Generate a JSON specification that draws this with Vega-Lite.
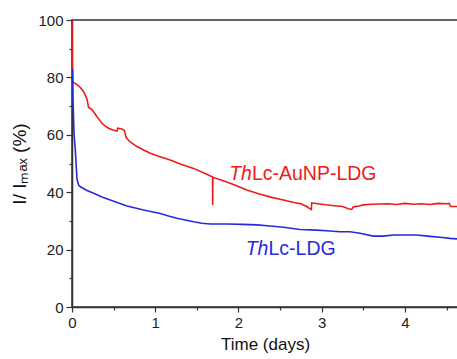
{
  "$schema": "https://vega.github.io/schema/vega-lite/v6.json",
  "width": 386,
  "height": 287,
  "autosize": "none",
  "padding": {"left": 72, "top": 20, "right": 0, "bottom": 52},
  "background": "white",
  "config": {
    "view": {"stroke": "#333", "strokeWidth": 1.5},
    "font": "Liberation Sans"
  },
  "datasets": {
    "curves": [
      {"series": "AuNP", "t": 0, "v": 100},
      {"series": "AuNP", "t": 0.003, "v": 85},
      {"series": "AuNP", "t": 0.008, "v": 78.5},
      {"series": "AuNP", "t": 0.03, "v": 78},
      {"series": "AuNP", "t": 0.06, "v": 77.5},
      {"series": "AuNP", "t": 0.1, "v": 76.5},
      {"series": "AuNP", "t": 0.14, "v": 75},
      {"series": "AuNP", "t": 0.18, "v": 72.5},
      {"series": "AuNP", "t": 0.2, "v": 69.5},
      {"series": "AuNP", "t": 0.23, "v": 69},
      {"series": "AuNP", "t": 0.26, "v": 68},
      {"series": "AuNP", "t": 0.3, "v": 66.3},
      {"series": "AuNP", "t": 0.33, "v": 65.2},
      {"series": "AuNP", "t": 0.36, "v": 64},
      {"series": "AuNP", "t": 0.4, "v": 63},
      {"series": "AuNP", "t": 0.44, "v": 62.3},
      {"series": "AuNP", "t": 0.5, "v": 61.6},
      {"series": "AuNP", "t": 0.54, "v": 61.3},
      {"series": "AuNP", "t": 0.55, "v": 62.3},
      {"series": "AuNP", "t": 0.6, "v": 62},
      {"series": "AuNP", "t": 0.63, "v": 61.5},
      {"series": "AuNP", "t": 0.65, "v": 59},
      {"series": "AuNP", "t": 0.7, "v": 57.5},
      {"series": "AuNP", "t": 0.78, "v": 55.9},
      {"series": "AuNP", "t": 0.86, "v": 54.7},
      {"series": "AuNP", "t": 0.94, "v": 53.6},
      {"series": "AuNP", "t": 1.05, "v": 52.4},
      {"series": "AuNP", "t": 1.18, "v": 51.2},
      {"series": "AuNP", "t": 1.3, "v": 49.8},
      {"series": "AuNP", "t": 1.46, "v": 48.3},
      {"series": "AuNP", "t": 1.6, "v": 46.5},
      {"series": "AuNP", "t": 1.689, "v": 45.3},
      {"series": "AuNP", "t": 1.69, "v": 35.5},
      {"series": "AuNP", "t": 1.692, "v": 45.2},
      {"series": "AuNP", "t": 1.8, "v": 44.2},
      {"series": "AuNP", "t": 1.94, "v": 42.7},
      {"series": "AuNP", "t": 2.1, "v": 40.8},
      {"series": "AuNP", "t": 2.26, "v": 39.3},
      {"series": "AuNP", "t": 2.4, "v": 38.2},
      {"series": "AuNP", "t": 2.54, "v": 37.3},
      {"series": "AuNP", "t": 2.65, "v": 36.5},
      {"series": "AuNP", "t": 2.75, "v": 36},
      {"series": "AuNP", "t": 2.82, "v": 35},
      {"series": "AuNP", "t": 2.86, "v": 34.2},
      {"series": "AuNP", "t": 2.875, "v": 34},
      {"series": "AuNP", "t": 2.88, "v": 36.3},
      {"series": "AuNP", "t": 2.95, "v": 36},
      {"series": "AuNP", "t": 3.05, "v": 35.6},
      {"series": "AuNP", "t": 3.15, "v": 35.3},
      {"series": "AuNP", "t": 3.25, "v": 35},
      {"series": "AuNP", "t": 3.32, "v": 34.2},
      {"series": "AuNP", "t": 3.36, "v": 34},
      {"series": "AuNP", "t": 3.38, "v": 34.9},
      {"series": "AuNP", "t": 3.45, "v": 35.2},
      {"series": "AuNP", "t": 3.5, "v": 35.6},
      {"series": "AuNP", "t": 3.6, "v": 35.8},
      {"series": "AuNP", "t": 3.7, "v": 35.9},
      {"series": "AuNP", "t": 3.8, "v": 36},
      {"series": "AuNP", "t": 3.9, "v": 35.7},
      {"series": "AuNP", "t": 4.0, "v": 36.1},
      {"series": "AuNP", "t": 4.1, "v": 35.8},
      {"series": "AuNP", "t": 4.2, "v": 36},
      {"series": "AuNP", "t": 4.3, "v": 35.7},
      {"series": "AuNP", "t": 4.4, "v": 36.1},
      {"series": "AuNP", "t": 4.5, "v": 36},
      {"series": "AuNP", "t": 4.53, "v": 36.1},
      {"series": "AuNP", "t": 4.55, "v": 35},
      {"series": "AuNP", "t": 4.64, "v": 35},
      {"series": "LDG", "t": 0, "v": 76},
      {"series": "LDG", "t": 0.006, "v": 83},
      {"series": "LDG", "t": 0.012, "v": 72},
      {"series": "LDG", "t": 0.025, "v": 60},
      {"series": "LDG", "t": 0.04, "v": 54.7},
      {"series": "LDG", "t": 0.06, "v": 44.5},
      {"series": "LDG", "t": 0.08, "v": 42.5},
      {"series": "LDG", "t": 0.1, "v": 41.9},
      {"series": "LDG", "t": 0.18, "v": 40.6},
      {"series": "LDG", "t": 0.26, "v": 39.6},
      {"series": "LDG", "t": 0.36, "v": 38.3},
      {"series": "LDG", "t": 0.46, "v": 37.3},
      {"series": "LDG", "t": 0.56, "v": 36.2},
      {"series": "LDG", "t": 0.66, "v": 35.2},
      {"series": "LDG", "t": 0.76, "v": 34.5},
      {"series": "LDG", "t": 0.86, "v": 33.8},
      {"series": "LDG", "t": 0.96, "v": 33.2},
      {"series": "LDG", "t": 1.06, "v": 32.6},
      {"series": "LDG", "t": 1.16, "v": 31.7},
      {"series": "LDG", "t": 1.26, "v": 30.9},
      {"series": "LDG", "t": 1.36, "v": 30.3},
      {"series": "LDG", "t": 1.46, "v": 29.7},
      {"series": "LDG", "t": 1.56, "v": 29.2},
      {"series": "LDG", "t": 1.66, "v": 28.9},
      {"series": "LDG", "t": 1.86, "v": 28.9},
      {"series": "LDG", "t": 2.04, "v": 28.8},
      {"series": "LDG", "t": 2.22, "v": 28.6},
      {"series": "LDG", "t": 2.38, "v": 28.2},
      {"series": "LDG", "t": 2.54, "v": 27.8},
      {"series": "LDG", "t": 2.74, "v": 27},
      {"series": "LDG", "t": 2.94, "v": 26.8},
      {"series": "LDG", "t": 3.1, "v": 26.5},
      {"series": "LDG", "t": 3.22, "v": 26.2},
      {"series": "LDG", "t": 3.34, "v": 26.2},
      {"series": "LDG", "t": 3.46, "v": 25.7},
      {"series": "LDG", "t": 3.62, "v": 24.7},
      {"series": "LDG", "t": 3.74, "v": 24.7},
      {"series": "LDG", "t": 3.86, "v": 25.1},
      {"series": "LDG", "t": 4.0, "v": 25.1},
      {"series": "LDG", "t": 4.14, "v": 25.1},
      {"series": "LDG", "t": 4.3, "v": 24.6},
      {"series": "LDG", "t": 4.45, "v": 24.2},
      {"series": "LDG", "t": 4.54, "v": 23.9},
      {"series": "LDG", "t": 4.64, "v": 23.7}
    ],
    "labels": [
      {"series": "AuNP", "part": "italic", "text": "Th", "t": 1.888, "v": 44.4},
      {"series": "AuNP", "part": "normal", "text": "Lc-AuNP-LDG", "t": 2.161, "v": 44.4},
      {"series": "LDG", "part": "italic", "text": "Th", "t": 2.086, "v": 18.1},
      {"series": "LDG", "part": "normal", "text": "Lc-LDG", "t": 2.36, "v": 18.1}
    ]
  },
  "encoding": {
    "x": {
      "field": "t", "type": "quantitative",
      "scale": {"domain": [0, 4.637], "nice": false, "zero": false},
      "axis": {
        "title": "Time (days)",
        "values": [0, 0.5, 1, 1.5, 2, 2.5, 3, 3.5, 4, 4.5],
        "labelExpr": "datum.value % 1 === 0 ? format(datum.value, 'd') : ''",
        "grid": false,
        "domainColor": "#333", "domainWidth": 1.5,
        "tickColor": "#333", "tickWidth": 1.2,
        "tickSize": {"condition": {"test": "datum.value % 1 !== 0", "value": 3}, "value": 5},
        "labelFontSize": 15, "labelColor": "#222", "labelPadding": 3,
        "labelFlush": false, "labelOverlap": false,
        "titleFontSize": 17, "titleFontWeight": "normal", "titleColor": "#111", "titlePadding": 6
      }
    },
    "y": {
      "field": "v", "type": "quantitative",
      "scale": {"domain": [0, 100], "nice": false},
      "axis": {
        "title": "I/ Iₘₐₓ (%)",
        "values": [0, 10, 20, 30, 40, 50, 60, 70, 80, 90, 100],
        "labelExpr": "datum.value % 20 === 0 ? datum.label : ''",
        "grid": false,
        "domainColor": "#333", "domainWidth": 1.5,
        "tickColor": "#333", "tickWidth": 1.2,
        "tickSize": {"condition": {"test": "datum.value % 20 !== 0", "value": 3}, "value": 6},
        "labelFontSize": 15, "labelColor": "#222", "labelPadding": 3,
        "labelFlush": false, "labelOverlap": false,
        "titleFontSize": 19, "titleFontWeight": "normal", "titleColor": "#111", "titlePadding": 8
      }
    },
    "color": {
      "field": "series", "type": "nominal",
      "scale": {"domain": ["AuNP", "LDG"], "range": ["#ee1a1a", "#2a2ad8"]},
      "legend": null
    }
  },
  "layer": [
    {
      "data": {"name": "curves"},
      "mark": {"type": "line", "strokeWidth": 1.6, "clip": true, "interpolate": "linear"},
      "encoding": {"order": {"field": "t", "type": "quantitative"}}
    },
    {
      "data": {"name": "labels"},
      "transform": [{"filter": "datum.part === 'italic'"}],
      "mark": {"type": "text", "align": "left", "baseline": "alphabetic", "fontSize": 19.5, "fontStyle": "italic", "font": "Liberation Sans"},
      "encoding": {"text": {"field": "text"}}
    },
    {
      "data": {"name": "labels"},
      "transform": [{"filter": "datum.part === 'normal'"}],
      "mark": {"type": "text", "align": "left", "baseline": "alphabetic", "fontSize": 19.5, "font": "Liberation Sans"},
      "encoding": {"text": {"field": "text"}}
    }
  ]
}
